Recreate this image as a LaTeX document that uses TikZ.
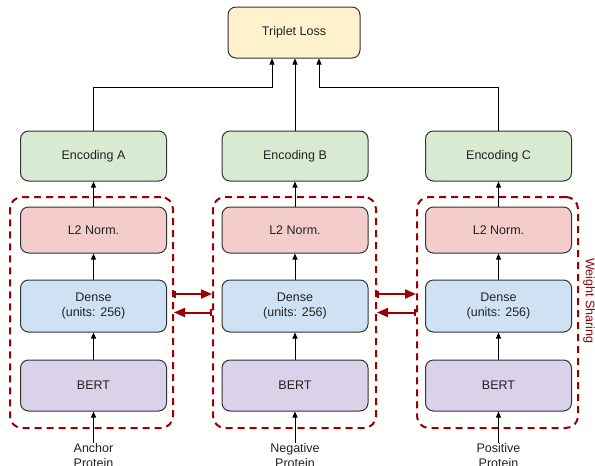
\documentclass[tikz,border=0pt]{standalone}
\usepackage{fontspec}
\setmainfont{Liberation Sans}
\usetikzlibrary{arrows.meta,calc}
\definecolor{cyel}{HTML}{FFF2CC}
\definecolor{cgrn}{HTML}{D9EAD3}
\definecolor{cred}{HTML}{F4CCCC}
\definecolor{cblu}{HTML}{CFE2F3}
\definecolor{cpur}{HTML}{D9D2E9}
\definecolor{dred}{HTML}{990000}
\definecolor{edge}{HTML}{333333}
\definecolor{txt}{HTML}{222222}
\begin{document}
\begin{tikzpicture}[x=1pt,y=-1pt,
  box/.style={draw=edge, line width=1pt, rounded corners=8pt, minimum width=146pt,
    align=center, text=txt, font=\fontsize{12.5}{15}\selectfont, inner sep=0pt},
  dbox/.style={draw=dred, line width=2pt, dash pattern=on 7pt off 5pt, rounded corners=12pt,
    minimum width=163pt, minimum height=231pt, inner sep=0pt},
  arr/.style={draw=black, line width=1pt, -{Triangle[width=5pt,length=6pt]}},
  shr/.style={draw=dred, line width=2pt, {Bar[width=7pt]}-{Triangle[width=9pt,length=11pt]}},
  lbl/.style={align=center, text=txt, font=\fontsize{12.5}{15}\selectfont, inner sep=0pt}
]
\useasboundingbox (0,0) rectangle (595,466);
\fill[white] (0,0) rectangle (595,466);

% dashed groups
\node[dbox] (gA) at (91.5,312.5) {};
\node[dbox] (gB) at (294.5,312.5) {};
\node[dbox, minimum width=161pt] (gC) at (497.5,312.5) {};

% boxes
\node[box, fill=cyel, minimum width=132pt, minimum height=51pt] (tl) at (294,32.5) {Triplet Loss};
\foreach \c/\x/\l in {A/93.5,B/295,C/498.5}{
  \node[box, fill=cgrn, minimum height=50pt] (enc\c) at (\x,156) {Encoding \c};
  \node[box, fill=cred, minimum height=46pt] (l2\c) at (\x,230) {L2 Norm.};
  \node[box, fill=cblu, minimum height=52pt] (dn\c) at (\x,306) {Dense\\(units: 256)};
  \node[box, fill=cpur, minimum height=51pt] (bt\c) at (\x,385.5) {BERT};
}
\node[lbl, anchor=north] (inA) at (93.5,443) {Anchor\\Protein};
\node[lbl, anchor=north] (inB) at (295,443) {Negative\\Protein};
\node[lbl, anchor=north] (inC) at (498.5,443) {Positive\\Protein};

\foreach \c in {A,B,C}{
  \draw[arr] (in\c.north) -- (bt\c.south);
  \draw[arr] (bt\c.north) -- (dn\c.south);
  \draw[arr] (dn\c.north) -- (l2\c.south);
  \draw[arr] (l2\c.north) -- (enc\c.south);
}

\draw[arr] (encA.north) -- ++(0,-43) -| ([xshift=-22pt]tl.south);
\draw[arr] (encB.north) -- (encB.north |- tl.south);
\draw[arr] (encC.north) -- ++(0,-43) -| ([xshift=25pt]tl.south);

% weight sharing arrows
\draw[shr] ([yshift=18.5pt]gA.east) -- ([yshift=18.5pt]gB.west);
\draw[shr] (gB.west) -- (gA.east);
\draw[shr] ([yshift=18.5pt]gB.east) -- ([yshift=18.5pt]gC.west);
\draw[shr] (gC.west) -- (gB.east);

\node[text=dred, font=\fontsize{12.5}{15}\selectfont, rotate=-90, inner sep=0pt] (ws) at (589,301) {Weight Sharing};
\end{tikzpicture}
\end{document}
